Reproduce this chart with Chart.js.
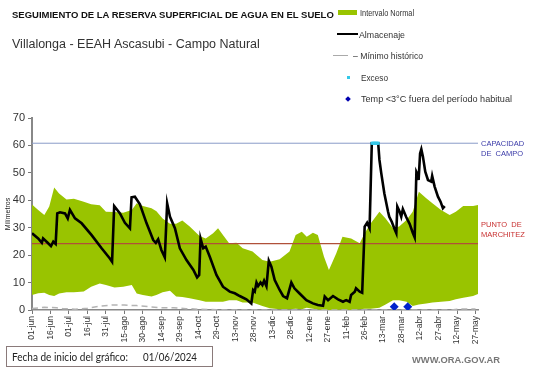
<!DOCTYPE html>
<html>
<head>
<meta charset="utf-8">
<script src="https://cdn.jsdelivr.net/npm/chart.js@4.4.1/dist/chart.umd.min.js"></script>
<style>
    body { margin: 0; width: 541px; height: 368px; background: #fff; position: relative; overflow: hidden; font-family: 'Liberation Sans', Arial, sans-serif; }
    #chartBox { position: absolute; left: 0; top: 0; width: 541px; height: 368px; }
    .txt { position: absolute; white-space: nowrap; line-height: 1; transform-origin: left center; }
    .leg { font-size: 9.5px; color: #333; }
    .side { font-size: 7.5px; line-height: 10px; }
</style>
</head>
<body>
<div id="chartBox"><canvas id="reserva" width="541" height="368"></canvas></div>

<div class="txt" style="left:12px;top:10px;font-size:9.5px;font-weight:bold;color:#111;">SEGUIMIENTO DE LA RESERVA SUPERFICIAL DE AGUA EN EL SUELO</div>
<div class="txt" style="left:12px;top:38px;font-size:12.5px;color:#333;">Villalonga - EEAH Ascasubi - Campo Natural</div>

<!-- legend -->
<div style="position:absolute;left:338px;top:10px;width:19px;height:5px;background:#99c400;"></div>
<div class="txt leg fit" data-w="54" style="left:360px;top:8px;">Intervalo Normal</div>
<div style="position:absolute;left:337px;top:33px;width:21px;height:2px;background:#000;"></div>
<div class="txt leg fit" data-w="46" style="left:359px;top:30px;">Almacenaje</div>
<div style="position:absolute;left:333px;top:55px;width:15px;height:1px;background:#aaa;"></div>
<div class="txt leg fit" data-w="70" style="left:353px;top:51px;">– Mínimo histórico</div>
<div style="position:absolute;left:347px;top:76px;width:3px;height:3px;background:#33c8e8;"></div>
<div class="txt leg fit" data-w="27" style="left:361px;top:73px;">Exceso</div>
<div style="position:absolute;left:346px;top:97px;width:4px;height:4px;background:#0000b0;transform:rotate(45deg);"></div>
<div class="txt leg fit" data-w="151" style="left:361px;top:94px;">Temp &lt;3°C fuera del período habitual</div>

<!-- reference line labels -->
<div class="txt side" style="left:481px;top:139px;color:#3a3aa8;">CAPACIDAD<br>DE&nbsp; CAMPO</div>
<div class="txt side" style="left:481px;top:220px;color:#c83030;">PUNTO&nbsp; DE<br>MARCHITEZ</div>

<!-- footer -->
<div style="position:absolute;left:6px;top:346px;width:205px;height:19px;border:1px solid #8a7a7a;"></div>
<div class="txt fit" data-w="116" style="left:12px;top:351px;font-size:11px;color:#222;font-family:Lato,sans-serif;">Fecha de inicio del gráfico:</div>
<div class="txt fit" data-w="54" style="left:143px;top:351px;font-size:11px;color:#222;font-family:Lato,sans-serif;">01/06/2024</div>
<div class="txt fit" data-w="88" style="left:412px;top:355px;font-size:9.5px;font-weight:bold;color:#777;">WWW.ORA.GOV.AR</div>

<script>
// x axis: days since 01/06/2024
const xTickDays = [0, 15, 30, 45, 60, 75, 90, 105, 120, 135, 150, 165, 180, 195, 210, 225, 240, 255, 270, 285, 300, 315, 330, 345, 360];
const xTickLabels = ['01-jun', '16-jun', '01-jul', '16-jul', '31-jul', '15-ago', '30-ago', '14-sep', '29-sep', '14-oct', '29-oct', '13-nov', '28-nov',
    '13-dic', '28-dic', '12-ene', '27-ene', '11-feb', '26-feb', '13-mar', '28-mar', '12-abr', '27-abr', '12-may', '27-may'];

// intervalo normal (band)
const bandDays = [0, 5, 10, 14, 18, 22, 28, 34, 42, 48, 55, 60, 67, 74, 81, 85, 90, 97, 101, 106, 112, 117, 122, 128, 136, 141, 147, 151, 155, 160,
    166, 171, 179, 187, 193, 201, 209, 214, 219, 223, 228, 232, 237, 241, 247, 252, 259, 266, 270, 275, 282, 287, 293, 298, 304, 309, 314, 320,
    325, 332, 339, 344, 350, 358, 362];
const bandMax = [38.5, 36.5, 34.6, 37.7, 44.7, 42.5, 40.3, 40.6, 39.5, 38.6, 38.2, 35.8, 35.7, 35.5, 36.5, 38.9, 37.9, 37.1, 36, 33.4, 31.4, 31.4,
    32.6, 30.4, 27, 26.1, 28, 29.8, 27.3, 24.3, 24.5, 22.5, 21.3, 18.2, 17.6, 18.5, 21.3, 27.3, 28.5, 26.7, 28.2, 27.3, 19.4, 14.6, 20.7, 26.7,
    26.1, 24.3, 28, 31.6, 35.8, 33.4, 29.8, 30.4, 32.8, 35.8, 43.1, 40.7, 38.9, 36.5, 34.6, 35.8, 37.9, 37.9, 38.3];
const bandMin = [5.5, 6.1, 6.3, 5.5, 5.1, 6.0, 6.5, 6.5, 6.7, 8.5, 9.7, 9.1, 8.2, 8.5, 9.1, 6.0, 5.5, 4.9, 5.5, 6.5, 7.0, 4.9, 4.7, 4.3, 3.6, 3.0,
    3.0, 3.0, 3.0, 3.6, 3.6, 2.7, 2.7, 1.5, 0.6, 0.3, 0.3, 0.5, 0.3, 0.8, 0.5, 0.2, 0, 0, 0, 0.3, 0, 0.3, 0.5, 0.5, 0.8, 2.0, 3.6, 3.6, 3.0, 1.5,
    2.0, 2.4, 2.7, 3.0, 3.3, 3.9, 4.5, 5.1, 5.8];

// almacenaje
const storeDays = [0, 5, 8, 9, 12.7, 15.4, 17.3, 19.2, 20.5, 22.7, 26.8, 29, 30.8, 34.9, 40.3, 48.4, 56.5, 63.2, 65, 66.7, 71.4, 75.4, 79.5, 80.8,
    83.5, 87.6, 93, 98.4, 100.5, 102.4, 105, 107.8, 109.7, 112, 116, 120, 125.4, 131, 134, 135.7, 136.8, 139, 141, 144.3, 149.7, 155, 160.5, 164.6,
    168.6, 174, 178, 179.5, 180.8, 182.2, 183.5, 185.5, 187, 188.4, 190.3, 192.2, 194.3, 197, 201, 203.8, 207, 210.5, 213, 217, 222.7, 228, 232,
    236.2, 237.6, 240.3, 244.3, 248.4, 252.4, 255, 257.8, 259, 262, 263, 266, 268, 270, 272, 274, 275.8, 281, 282, 283.5, 286, 289, 290, 292, 294,
    295.7, 296.5, 298.4, 299.7, 301, 303.8, 306.5, 309.2, 310.6, 312, 313.3, 313.8, 315, 316, 317.3, 319.2, 321.4, 324, 324.8, 326.8, 329.5, 331.6,
    333.5, 335];
const storeMm = [28, 26.1, 24.5, 26.1, 24.5, 23.3, 24.9, 24.1, 35.2, 35.6, 35.2, 33.4, 36.5, 33.4, 31.6, 27.3, 22.5, 18.8, 17.6, 37.9, 35.2, 31.8,
    29.8, 41.1, 41.3, 38.5, 31.6, 25.5, 24.5, 25.8, 21.9, 19.2, 38.9, 34, 29.8, 22.5, 18.2, 14.6, 11.9, 12.8, 26.1, 22.5, 23.1, 19.4, 12.8, 8.5,
    6.7, 6.1, 5.1, 3.9, 2.4, 7.3, 6.7, 10, 8.7, 10, 9.1, 10.7, 8.7, 18, 15.8, 10.9, 7.3, 5.1, 4.3, 10, 7.9, 6.1, 3.6, 2.4, 1.8,
    1.5, 4.9, 3.6, 5.1, 3.9, 3.0, 3.6, 3.0, 5.5, 6.7, 7.9, 6.7, 6.3, 30.4, 31.8, 29.8, 60.8, 60.8, 54.7, 49.8, 42.5, 35.8, 34, 32.2, 29.8,
    28, 37.7, 35.8, 34, 36.8, 33.8, 31.4, 28, 26.5, 50.4, 49.2, 47.4, 57.1, 58.6, 55.9, 50.4, 47.4, 46.8, 48.9, 45, 41.3, 39.5,
    37.1, 37.9];

// minimo historico
const minDays = [0, 10, 20, 25, 35, 45, 55, 65, 75, 85, 95, 105, 115, 125, 135, 150, 165, 340, 345, 360];
const minMm = [0.5, 1.0, 0.8, 0.5, 0.3, 0.6, 1.4, 1.8, 1.8, 1.6, 1.2, 0.8, 0.8, 0.5, 0.3, 0.1, 0, 0, 0.3, 0.4];

// exceso y heladas
const excesoDays = [276, 277, 278, 279, 280, 281];
const excesoMm = [60.8, 60.8, 60.8, 60.8, 60.8, 60.8];
const frostDays = [294, 305];
const frostMm = [1.2, 1.2];

const capacidadCampo = 60.8;
const puntoMarchitez = 24.2;
const xMax = 362;

function pts(days, vals) {
    return days.map((d, i) => ({ x: d, y: vals[i] }));
}

// squeeze html labels to the width they have in the original
function fitTexts() {
    document.querySelectorAll('.fit').forEach(el => {
        const w = el.getBoundingClientRect().width;
        const target = parseFloat(el.dataset.w);
        if (w > 0) el.style.transform = 'scaleX(' + (target / w).toFixed(3) + ')';
    });
}

document.addEventListener('DOMContentLoaded', function() {
    fitTexts();
    const ctx = document.getElementById('reserva');

    new Chart(ctx, {
        type: 'line',
        data: {
            datasets: [
                {
                    label: 'max',
                    data: pts(bandDays, bandMax),
                    borderWidth: 0,
                    pointRadius: 0,
                    backgroundColor: '#99c400',
                    fill: 1,
                    order: 10
                },
                {
                    label: 'min',
                    data: pts(bandDays, bandMin),
                    borderWidth: 0,
                    pointRadius: 0,
                    fill: false,
                    order: 10
                },
                {
                    label: 'Mínimo histórico',
                    data: pts(minDays, minMm),
                    borderColor: '#b4b4b4',
                    borderWidth: 1.5,
                    borderDash: [6, 4],
                    pointRadius: 0,
                    order: 6
                },
                {
                    label: 'Capacidad',
                    data: pts([0, xMax], [capacidadCampo, capacidadCampo]),
                    borderColor: '#8a9cc8',
                    borderWidth: 1,
                    pointRadius: 0,
                    order: 5
                },
                {
                    label: 'Marchitez',
                    data: pts([0, xMax], [puntoMarchitez, puntoMarchitez]),
                    borderColor: '#b0503a',
                    borderWidth: 1.2,
                    pointRadius: 0,
                    order: 5
                },
                {
                    label: 'Almacenaje',
                    data: pts(storeDays, storeMm),
                    borderColor: '#000',
                    borderWidth: 2.6,
                    pointRadius: 0,
                    tension: 0,
                    order: 2
                },
                {
                    label: 'Exceso',
                    data: pts(excesoDays, excesoMm),
                    showLine: false,
                    pointStyle: 'rect',
                    pointRadius: 2.2,
                    pointBorderWidth: 0,
                    backgroundColor: '#33c8e8',
                    order: 1
                },
                {
                    label: 'Temp',
                    data: pts(frostDays, frostMm),
                    showLine: false,
                    pointStyle: 'rectRot',
                    pointRadius: 4.5,
                    pointBorderWidth: 0,
                    backgroundColor: '#0022cc',
                    order: 1
                }
            ]
        },
        options: {
            responsive: false,
            animation: false,
            layout: { padding: { left: 0, right: 541 - 478, top: 118, bottom: 0 } },
            plugins: {
                legend: { display: false },
                tooltip: { enabled: false }
            },
            scales: {
                x: {
                    type: 'linear',
                    min: 0,
                    max: xMax,
                    afterBuildTicks: function(axis) {
                        axis.ticks = xTickDays.map(v => ({ value: v }));
                    },
                    afterFit: function(scale) { scale.height = 58; },
                    grid: { drawOnChartArea: false, drawTicks: true, tickLength: 4, color: '#777' },
                    border: { color: '#888', width: 1.5 },
                    ticks: {
                        autoSkip: false,
                        maxRotation: 90,
                        minRotation: 90,
                        padding: 2,
                        color: '#333',
                        font: { family: 'Liberation Sans', size: 8.5 },
                        callback: function(value, index) { return xTickLabels[index]; }
                    }
                },
                y: {
                    min: 0,
                    max: 70,
                    afterFit: function(scale) { scale.width = 32; },
                    grid: { drawOnChartArea: false, drawTicks: true, tickLength: 4, color: '#777' },
                    border: { color: '#888', width: 2 },
                    ticks: {
                        stepSize: 10,
                        padding: 3,
                        color: '#333',
                        font: { family: 'Liberation Sans', size: 11 }
                    },
                    title: {
                        display: true,
                        text: 'Milímetros',
                        color: '#222',
                        padding: { top: 4, bottom: 0 },
                        font: { family: 'Liberation Sans', size: 7 }
                    }
                }
            }
        }
    });
});
</script>
</body>
</html>
